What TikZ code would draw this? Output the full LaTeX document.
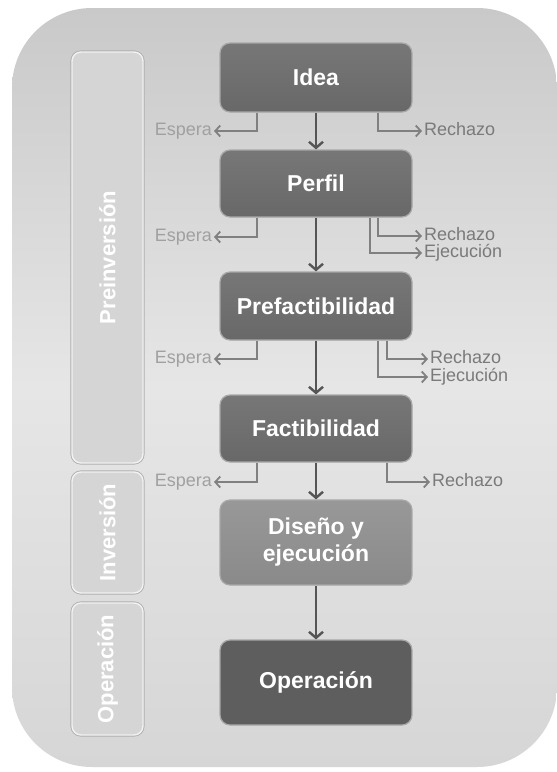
\documentclass[tikz,border=0pt]{standalone}
\usepackage{fontspec}
\setmainfont{Liberation Sans}
\usetikzlibrary{arrows.meta}
\definecolor{bgtop}{HTML}{C9C9C9}
\definecolor{bgmid}{HTML}{E6E6E6}
\definecolor{bgbot}{HTML}{D6D6D6}
\definecolor{boxfill}{HTML}{686868}
\definecolor{boxtop}{HTML}{777777}
\definecolor{boxedge}{HTML}{A8A8A8}
\definecolor{lightbox}{HTML}{8A8A8A}
\definecolor{lightboxtop}{HTML}{989898}
\definecolor{darkbox}{HTML}{5E5E5E}
\definecolor{phasefill}{HTML}{D5D5D5}
\definecolor{phaseedge}{HTML}{F2F2F2}
\definecolor{phaseshadow}{HTML}{AFAFAF}
\definecolor{mainline}{HTML}{555555}
\definecolor{branchline}{HTML}{808080}
\definecolor{esperatext}{HTML}{A0A0A0}
\definecolor{outtext}{HTML}{7A7A7A}
\begin{document}
\begin{tikzpicture}[x=1pt,y=-1pt,
  stage/.style={rectangle, rounded corners=10pt, draw=boxedge, line width=1.2pt,
    top color=boxtop, bottom color=boxfill, text=white, font=\bfseries\fontsize{23}{27}\selectfont,
    minimum width=192pt, align=center, inner sep=0pt},
  phase/.style={rectangle, rounded corners=9pt, draw=phaseedge, line width=1.4pt, fill=phasefill,
    preaction={draw=phaseshadow, line width=3.2pt},
    rotate=90, minimum height=71pt, text=white, font=\bfseries\fontsize{22}{26}\selectfont, inner sep=0pt},
  mainarrow/.style={draw=mainline, line width=2.6pt, -{Straight Barb[length=6pt,width=14pt,line width=2.4pt]}},
  branch/.style={draw=branchline, line width=1.8pt, -{Straight Barb[length=5pt,width=11pt,line width=1.8pt]}},
  esperalbl/.style={anchor=east, text=esperatext, font=\fontsize{18}{20}\selectfont, inner sep=2pt, text height=13pt, text depth=4pt},
  outlbl/.style={anchor=west, text=outtext, font=\fontsize{18}{20}\selectfont, inner sep=2pt, text height=13pt, text depth=4pt}
]
\useasboundingbox (0,0) rectangle (557,772);
\fill[white] (0,0) rectangle (557,772);
% background panel
\shade[top color=bgtop, bottom color=bgbot, middle color=bgmid, rounded corners=80pt]
  (12,8) rectangle (557,767);

% phase bars
\node[phase, minimum width=411pt] (pre) at (107.5,257.5) {Preinversión};
\node[phase, minimum width=121pt] (inv) at (107.5,532.5) {Inversión};
\node[phase, minimum width=132pt] (ope) at (107.5,669) {Operación};

% stages
\node[stage, minimum height=69pt] (idea) at (316,77.5) {Idea};
\node[stage, minimum height=67pt] (perfil) at (316,183.5) {Perfil};
\node[stage, minimum height=68pt] (pref) at (316,306) {Prefactibilidad};
\node[stage, minimum height=67pt] (fact) at (316,428.5) {Factibilidad};
\node[stage, minimum height=85pt, top color=lightboxtop, bottom color=lightbox] (dis) at (316,542.5) {Diseño y\\ejecución};
\node[stage, minimum height=85pt, top color=darkbox, bottom color=darkbox] (oper) at (316,682.5) {Operación};

% main flow
\draw[mainarrow] (idea.south) -- (perfil.north);
\draw[mainarrow] (perfil.south) -- (pref.north);
\draw[mainarrow] (pref.south) -- (fact.north);
\draw[mainarrow] (fact.south) -- (dis.north);
\draw[mainarrow] (dis.south) -- (oper.north);

% labels
\node[esperalbl] (e1) at (214,131) {Espera};
\node[outlbl] (r1) at (422,131) {Rechazo};
\node[esperalbl] (e2) at (214,237) {Espera};
\node[outlbl] (r2) at (422,236) {Rechazo};
\node[outlbl] (j2) at (422,253) {Ejecución};
\node[esperalbl] (e3) at (214,359) {Espera};
\node[outlbl] (r3) at (428,359) {Rechazo};
\node[outlbl] (j3) at (428,377) {Ejecución};
\node[esperalbl] (e4) at (214,482) {Espera};
\node[outlbl] (r4) at (430,482) {Rechazo};

% branches
\draw[branch] ([xshift=-59pt]idea.south) |- (e1.east);
\draw[branch] ([xshift=62pt]idea.south) |- (r1.west);
\draw[branch] ([xshift=-59pt]perfil.south) |- (e2.east);
\draw[branch] ([xshift=62pt]perfil.south) |- (r2.west);
\draw[branch] ([xshift=54pt]perfil.south) |- (j2.west);
\draw[branch] ([xshift=-59pt]pref.south) |- (e3.east);
\draw[branch] ([xshift=71pt]pref.south) |- (r3.west);
\draw[branch] ([xshift=62pt]pref.south) |- (j3.west);
\draw[branch] ([xshift=-59pt]fact.south) |- (e4.east);
\draw[branch] ([xshift=71pt]fact.south) |- (r4.west);
\end{tikzpicture}
\end{document}
